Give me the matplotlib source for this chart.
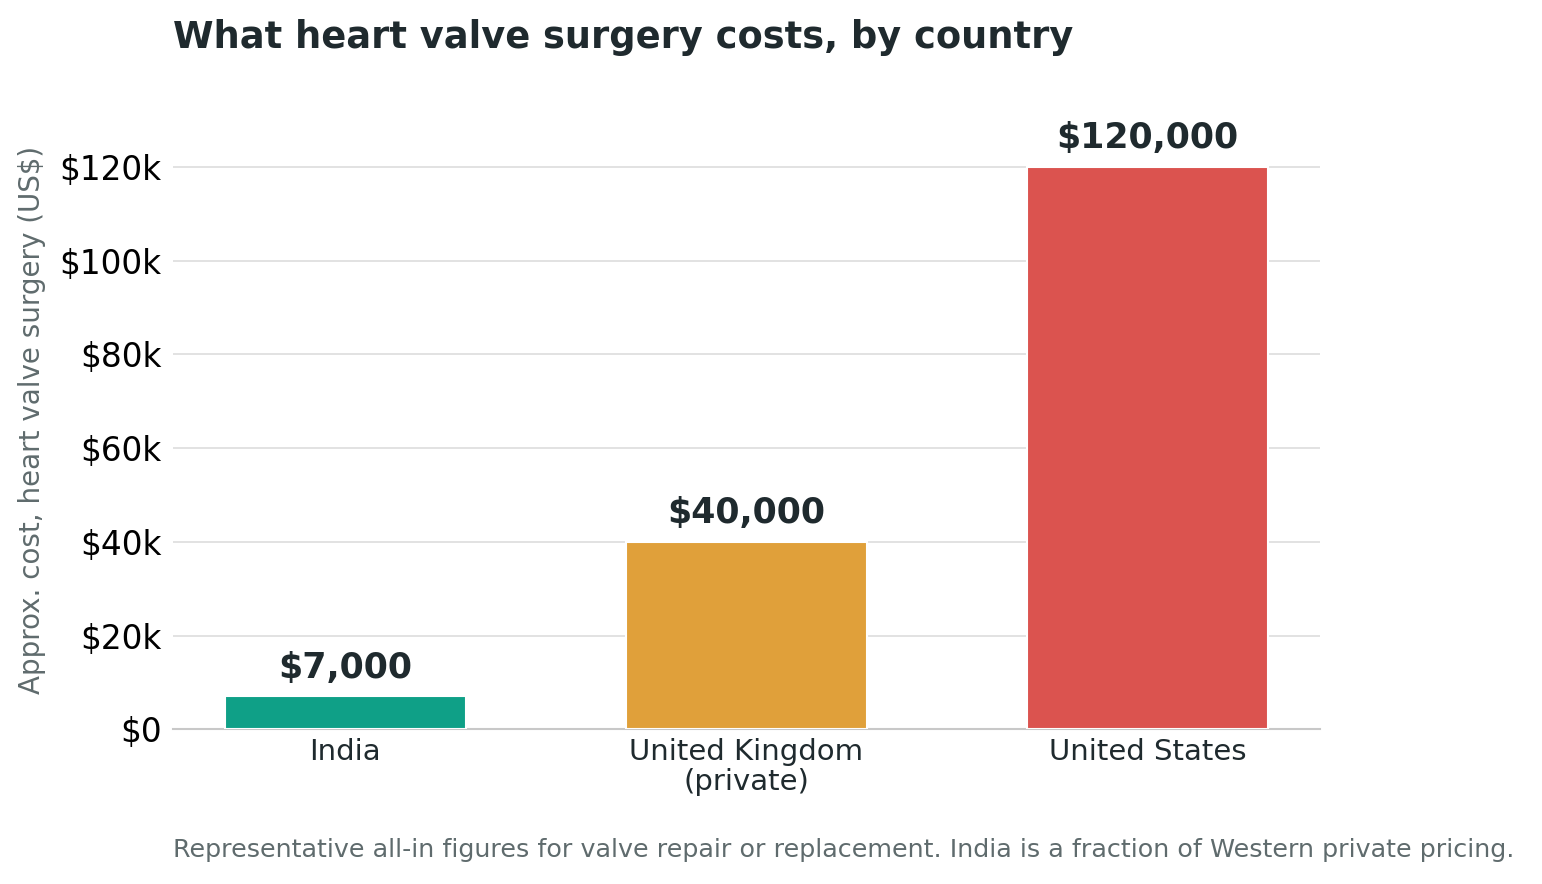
import matplotlib.pyplot as plt
from matplotlib.ticker import FuncFormatter

countries = ["India", "United Kingdom\n(private)", "United States"]
costs = [7000, 40000, 120000]
value_labels = ["$7,000", "$40,000", "$120,000"]
colors = ["#0fa087", "#e0a03a", "#db534f"]
yticks = [0, 20000, 40000, 60000, 80000, 100000, 120000]

dark = "#1f2a2e"
grey = "#5f6b6d"

fig = plt.figure(figsize=(15.42, 8.84), dpi=100)
ax = fig.add_axes([0.112, 0.175, 0.744, 0.70])

x = range(len(countries))
ax.bar(x, costs, width=0.6, color=colors, edgecolor="white", linewidth=1.5, zorder=3)
for xi, v, lab in zip(x, costs, value_labels):
    ax.text(xi, v + 2500, lab, ha="center", va="bottom", fontsize=25,
            fontweight="bold", color=dark)

ax.set_xlim(-0.43, 2.43)
ax.set_ylim(0, 132000)
ax.set_yticks(yticks)
ax.yaxis.set_major_formatter(FuncFormatter(lambda v, p: "$0" if v == 0 else f"${v/1000:.0f}k"))
ax.set_xticks(list(x))
ax.set_xticklabels(countries, fontsize=21, color=dark, linespacing=1.1)
ax.tick_params(axis="y", labelsize=23.5, length=0, pad=8)
ax.tick_params(axis="x", length=0, pad=6)
ax.grid(axis="y", color="#dddddd", linewidth=1.2, zorder=0)
for s in ["top", "right", "left"]:
    ax.spines[s].set_visible(False)
ax.spines["bottom"].set_color("#c8c8c8")
ax.spines["bottom"].set_linewidth(1.5)

ax.set_ylabel("Approx. cost, heart valve surgery (US$)", fontsize=20, color=grey, labelpad=10)

fig.text(0.112, 0.958, "What heart valve surgery costs, by country", fontsize=26.5,
         fontweight="bold", color=dark, ha="left", va="center")
fig.text(0.112, 0.039, "Representative all-in figures for valve repair or replacement. "
         "India is a fraction of Western private pricing.", fontsize=18.3,
         color=grey, ha="left", va="center")

fig.savefig("out.png", dpi=100)
